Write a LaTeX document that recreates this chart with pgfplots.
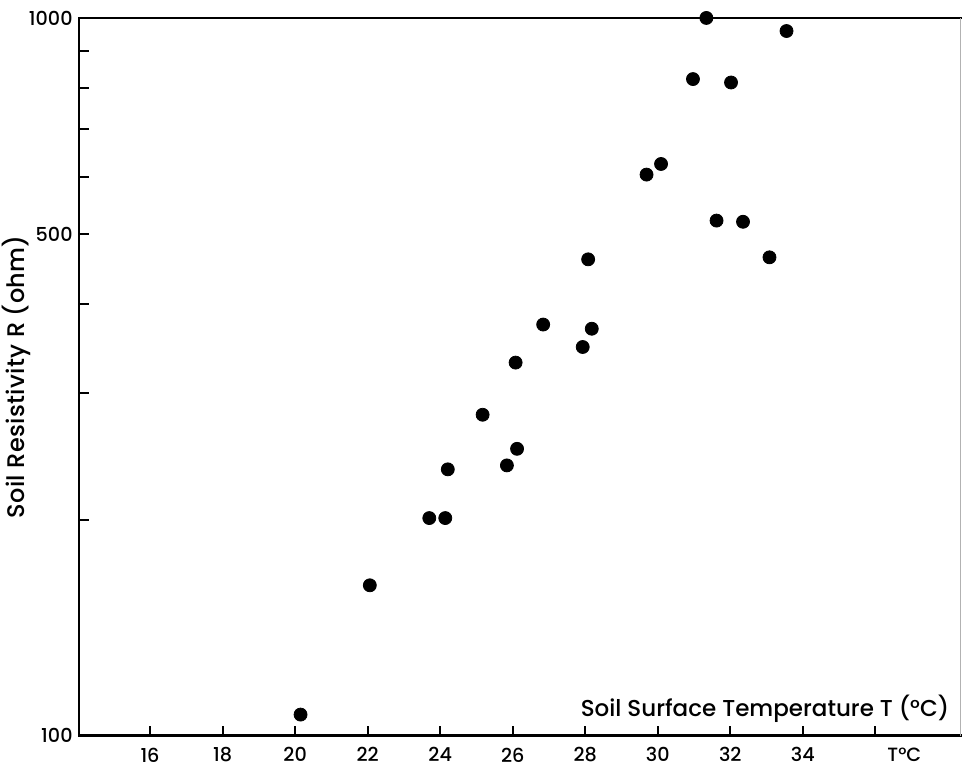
\documentclass[border=0pt]{standalone}
\usepackage{fontspec}
\setmainfont{Poppins}[UprightFont=* Medium]
\usepackage{pgfplots}
\pgfplotsset{compat=1.18}
\begin{document}
\begin{tikzpicture}
\begin{semilogyaxis}[
  scale only axis,
  width=441pt, height=359pt,
  xmin=14.04, xmax=38.35,
  ymin=100, ymax=1000,
  axis line style={draw=none},
  xtick pos=lower, ytick pos=left,
  tick align=inside,
  major tick length=5pt,
  every tick/.style={black, line width=1pt},
  minor tick num=0,
  xtick={16,18,...,34},
  xticklabels={16,18,20,22,24,26,28,30,32,34},
  extra x ticks={36},
  extra x tick labels={T°C},
  extra x tick style={xticklabel style={xshift=14.5pt}},
  ytick={100,200,300,400,500,600,700,800,900,1000},
  yticklabels={100,,,,500,,,,,1000},
  /pgf/number format/assume math mode=true,
  tick label style={font=\fontsize{9.6}{11}\selectfont, inner sep=0pt},
  xticklabel style={anchor=north, yshift=-5.8pt},
  yticklabel style={anchor=east, xshift=-3pt},
  xlabel={Soil Surface Temperature T (°C)},
  ylabel={Soil Resistivity R (ohm)},
  xlabel style={font=\fontsize{11.5}{13}\selectfont, at={(rel axis cs:0.995,0.027)}, anchor=base east},
  ylabel style={font=\fontsize{12}{14}\selectfont\addfontfeatures{LetterSpace=1.5}, inner sep=0pt, at={([xshift=-31.5pt]rel axis cs:0,0.5)}, anchor=center},
  clip=false,
]
% frame: left, bottom and top solid, right faint
\draw[black, line width=1.3pt, line cap=rect] (rel axis cs:1,1) -- (rel axis cs:0,1) -- (rel axis cs:0,0) -- (rel axis cs:1,0);
\draw[gray!60, line width=0.6pt] (rel axis cs:1,0) -- (rel axis cs:1,1);
\addplot[only marks, mark=*, mark size=3.25pt, black] coordinates {
  (20.15, 107)
  (22.06, 162)
  (23.70, 201)
  (24.14, 201)
  (24.21, 235)
  (25.17, 280)
  (25.84, 238)
  (26.12, 251)
  (26.08, 331)
  (26.84, 374)
  (27.93, 348)
  (28.18, 369)
  (28.08, 461)
  (29.69, 605)
  (30.09, 626)
  (30.97, 822)
  (31.34, 1000)
  (31.62, 522)
  (32.02, 813)
  (32.35, 520)
  (33.08, 464)
  (33.55, 959)
};
\end{semilogyaxis}
\path ([shift={(-39.5pt,-13.5pt)}]current axis.south west) rectangle ([shift={(0.7pt,9pt)}]current axis.north east);
\end{tikzpicture}
\end{document}
